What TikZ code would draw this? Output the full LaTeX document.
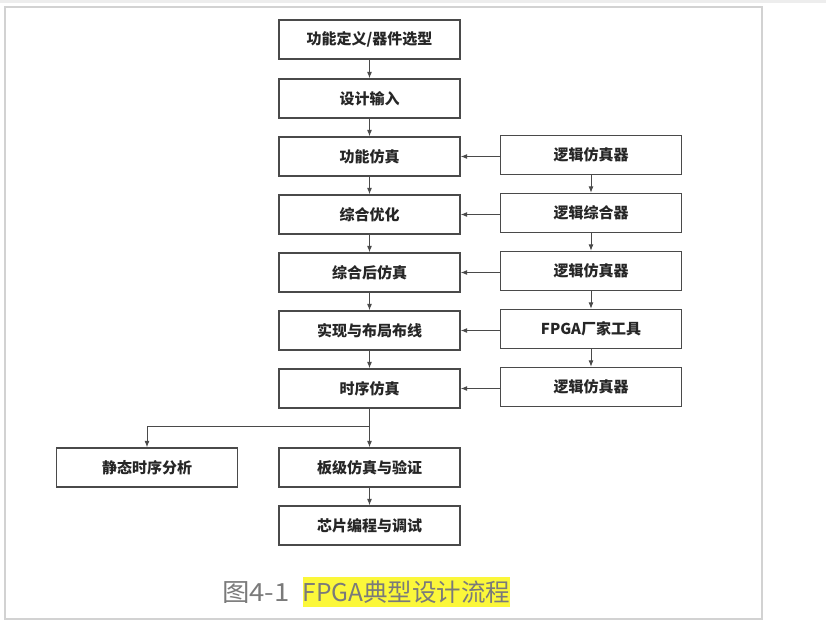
\documentclass[tikz,border=0pt]{standalone}
\usepackage{fontspec}
\newfontfamily\cjk{Noto Sans CJK SC}
\usetikzlibrary{arrows.meta}
\definecolor{boxline}{HTML}{4A4A4A}
\definecolor{txt}{HTML}{262626}
\definecolor{framegray}{HTML}{D2D2D2}
\definecolor{hl}{HTML}{FBF73A}
\definecolor{capgray}{HTML}{7A7A7A}
\tikzset{
  flowbox/.style={draw=boxline, line width=1.3pt, fill=white, minimum width=181pt,
    minimum height=39pt, inner sep=0pt, font=\cjk\bfseries\fontsize{15pt}{15pt}\selectfont, text=txt},
  flowarrow/.style={draw=boxline, line width=1pt, -{Latex[length=6.5pt,width=5pt]}},
  flowline/.style={draw=boxline, line width=1pt}
}
\begin{document}
\begin{tikzpicture}[x=1pt,y=-1pt]
\useasboundingbox (0,0) rectangle (826,627);
\fill[white] (0,0) rectangle (826,627);
\fill[black!7] (0,0) rectangle (826,2.5);
\draw[framegray, line width=1.5pt] (5,7) rectangle (762,619);

% main column
\node[flowbox] (m1) at (369.5,39.5) {功能定义/器件选型};
\node[flowbox] (m2) at (369.5,98.5) {设计输入};
\node[flowbox] (m3) at (369.5,156.5) {功能仿真};
\node[flowbox] (m4) at (369.5,214.5) {综合优化};
\node[flowbox] (m5) at (369.5,272.5) {综合后仿真};
\node[flowbox] (m6) at (369.5,330.5) {实现与布局布线};
\node[flowbox] (m7) at (369.5,388.5) {时序仿真};
\node[flowbox] (s1) at (147,467.5) {静态时序分析};
\node[flowbox] (m8) at (369.5,467.5) {板级仿真与验证};
\node[flowbox] (m9) at (369.5,525.5) {芯片编程与调试};

% right column
\node[flowbox] (r1) at (591,155) {逻辑仿真器};
\node[flowbox] (r2) at (591,213) {逻辑综合器};
\node[flowbox] (r3) at (591,271) {逻辑仿真器};
\node[flowbox] (r4) at (591,329) {FPGA厂家工具};
\node[flowbox] (r5) at (591,387) {逻辑仿真器};

% main vertical arrows
\draw[flowarrow] (m1) -- (m2);
\draw[flowarrow] (m2) -- (m3);
\draw[flowarrow] (m3) -- (m4);
\draw[flowarrow] (m4) -- (m5);
\draw[flowarrow] (m5) -- (m6);
\draw[flowarrow] (m6) -- (m7);
\draw[flowarrow] (m7) -- (m8);
\draw[flowarrow] (m8) -- (m9);

% right vertical arrows
\draw[flowarrow] (r1) -- (r2);
\draw[flowarrow] (r2) -- (r3);
\draw[flowarrow] (r3) -- (r4);
\draw[flowarrow] (r4) -- (r5);

% horizontal arrows
\draw[flowarrow] (r1.west |- m3.east) -- (m3.east);
\draw[flowarrow] (r2.west |- m4.east) -- (m4.east);
\draw[flowarrow] (r3.west |- m5.east) -- (m5.east);
\draw[flowarrow] (r4.west |- m6.east) -- (m6.east);
\draw[flowarrow] (r5.west |- m7.east) -- (m7.east);

% branch to static timing analysis
\coordinate (br) at (369.5,426);
\draw[flowarrow] (br) -| (s1.north);

% caption
\node[anchor=west, inner sep=0pt, text=capgray, font=\cjk\fontsize{25pt}{25pt}\selectfont] (capn) at (222,593) {\scalebox{1.1}[1]{图4-1}};
\node[fill=hl, text=capgray, minimum width=207pt, minimum height=30pt, inner sep=0pt,
  font=\cjk\fontsize{24.5pt}{24.5pt}\selectfont] (capt) at (406.5,592) {FPGA典型设计流程};
\end{tikzpicture}
\end{document}
